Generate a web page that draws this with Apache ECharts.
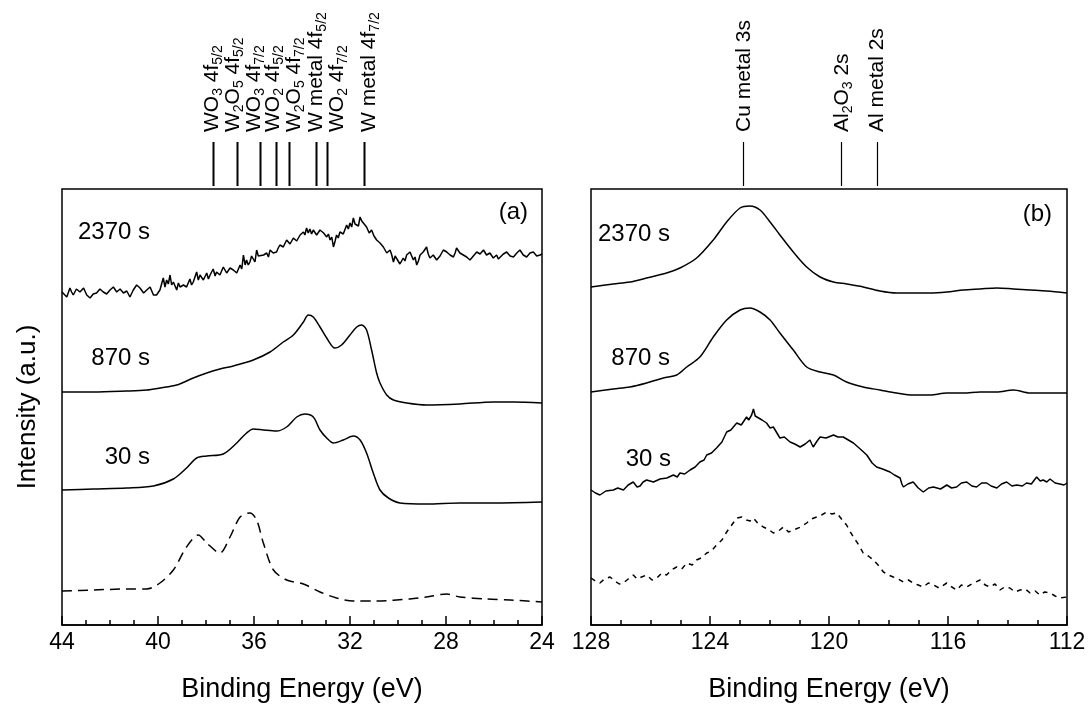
<!DOCTYPE html>
<html>
<head>
<meta charset="utf-8">
<script src="https://cdn.jsdelivr.net/npm/echarts@6/dist/echarts.min.js"></script>
<style>
  html, body { margin: 0; padding: 0; background: #ffffff; }
  #chart { width: 1091px; height: 709px; }
</style>
</head>
<body>
<div id="chart"></div>
<script>
// spectra, [binding energy (eV), intensity (a.u., offset for stacking)]
// panel (a): W 4f region
const a2370 = [[44.0,333],[43.94,332],[43.8,328],[43.67,337],[43.6,333],[43.53,330],[43.4,336],[43.25,333],[43.1,337],[42.97,330],[42.83,327],[42.7,331],[42.56,332],[42.42,336],[42.28,333],[42.14,331],[42.0,335],[41.86,338],[41.72,333],[41.58,336],[41.44,332],[41.3,334],[41.17,328],[41.03,335],[40.89,340],[40.75,337],[40.6,332],[40.47,335],[40.33,338],[40.19,330],[40.06,330],[39.92,335],[39.78,347],[39.71,338],[39.64,345],[39.57,341],[39.5,350],[39.43,340],[39.36,343],[39.22,335],[39.15,342],[39.08,338],[38.94,340],[38.81,338],[38.67,346],[38.6,340],[38.53,343],[38.39,353],[38.32,345],[38.25,350],[38.11,345],[37.97,352],[37.9,346],[37.83,350],[37.7,356],[37.62,349],[37.56,353],[37.42,350],[37.28,358],[37.14,352],[37.0,357],[36.86,355],[36.72,352],[36.58,360],[36.51,356],[36.44,370],[36.37,360],[36.31,365],[36.24,360],[36.17,363],[36.1,369],[36.03,368],[35.96,363],[35.89,375],[35.82,369],[35.75,367],[35.6,370],[35.47,372],[35.4,368],[35.33,375],[35.2,372],[35.06,373],[34.99,377],[34.92,380],[34.78,378],[34.64,385],[34.5,381],[34.36,387],[34.22,384],[34.08,390],[33.94,393],[33.88,390],[33.81,397],[33.74,392],[33.67,396],[33.6,391],[33.53,395],[33.39,390],[33.25,395],[33.1,392],[32.97,388],[32.9,391],[32.83,385],[32.76,388],[32.69,378],[32.62,384],[32.56,390],[32.49,387],[32.42,393],[32.28,391],[32.14,400],[32.07,396],[32.0,402],[31.93,398],[31.86,407],[31.79,401],[31.72,403],[31.65,399],[31.58,408],[31.51,404],[31.44,402],[31.31,398],[31.2,392],[31.1,395],[31.0,389],[30.89,385],[30.75,382],[30.61,378],[30.47,372],[30.33,375],[30.26,370],[30.19,363],[30.12,369],[30.06,367],[29.92,361],[29.78,367],[29.71,364],[29.64,370],[29.5,373],[29.36,365],[29.29,368],[29.22,360],[29.15,364],[29.08,370],[28.95,373],[28.81,378],[28.74,371],[28.67,367],[28.53,370],[28.39,365],[28.25,369],[28.11,375],[27.97,373],[27.83,370],[27.69,368],[27.62,372],[27.56,377],[27.42,372],[27.28,370],[27.14,368],[27.0,365],[26.86,369],[26.72,373],[26.58,371],[26.44,375],[26.31,370],[26.17,372],[26.03,367],[25.89,370],[25.82,366],[25.75,367],[25.61,371],[25.47,373],[25.33,369],[25.19,368],[25.05,372],[24.92,375],[24.78,370],[24.64,368],[24.5,372],[24.36,373],[24.22,369],[24.08,370],[24.0,371]];
const a870 = [[44.0,233],[42.69,233],[41.31,234],[40.47,235],[39.92,237],[39.22,240],[38.53,247],[37.97,252],[37.42,256],[36.86,259],[36.03,265],[35.33,273],[34.78,283],[34.36,290],[33.94,303],[33.74,310],[33.53,308],[33.25,298],[32.97,287],[32.63,277],[32.35,280],[32.0,290],[31.72,298],[31.51,300],[31.31,295],[31.1,275],[30.89,252],[30.75,242],[30.47,230],[30.19,225],[29.64,222],[28.81,220],[27.42,221],[26.03,223],[25.19,223],[24.0,222]];
const a30 = [[44.0,135],[42.69,136],[41.31,137],[40.19,139],[39.36,146],[38.81,157],[38.39,167],[37.97,169],[37.28,171],[36.72,182],[36.31,192],[36.03,196],[35.61,195],[35.06,194],[34.64,198],[34.22,208],[33.88,211],[33.53,208],[33.25,195],[32.97,187],[32.69,182],[32.28,185],[31.86,189],[31.58,185],[31.31,172],[31.03,152],[30.75,135],[30.4,127],[29.92,122],[28.81,121],[27.42,122],[26.03,122],[24.0,123]];
const aRef = [[44.0,34],[42.69,35],[41.31,36],[40.47,36],[39.92,42],[39.36,55],[38.81,78],[38.32,90],[37.97,82],[37.42,72],[37.0,88],[36.58,108],[36.17,112],[35.89,105],[35.61,82],[35.19,55],[34.64,45],[33.94,41],[33.25,33],[32.56,27],[31.86,24],[30.89,24],[29.5,26],[28.81,28],[27.97,31],[27.42,28],[26.31,26],[25.33,25],[24.0,23]];

// panel (b): Cu 3s / Al 2s region
const b2370 = [[128.0,338],[127.25,341],[126.69,343],[126.13,347],[125.46,352],[125.01,357],[124.45,367],[123.89,385],[123.44,403],[122.99,417],[122.66,419],[122.32,415],[121.98,403],[121.65,390],[121.2,373],[120.75,358],[120.3,348],[119.85,343],[119.41,341],[118.85,338],[118.29,334],[117.73,332],[117.17,332],[116.6,332],[116.04,333],[115.48,335],[114.92,336],[114.36,337],[113.8,336],[113.24,335],[112.68,334],[112.0,332]];
const b870 = [[128.0,233],[127.25,236],[126.69,238],[126.13,242],[125.57,247],[125.12,250],[124.78,258],[124.34,268],[123.89,288],[123.44,305],[122.99,315],[122.66,317],[122.32,313],[121.98,305],[121.65,292],[121.2,275],[120.75,258],[120.3,253],[119.85,250],[119.41,243],[118.85,238],[118.29,235],[117.73,232],[117.17,230],[116.6,230],[116.04,232],[115.48,232],[114.92,233],[114.36,233],[113.8,235],[113.24,232],[112.68,232],[112.0,232]];
const b30 = [[128.0,135],[127.85,132],[127.7,130],[127.5,134],[127.25,135],[127.1,137],[126.91,135],[126.75,140],[126.58,143],[126.45,138],[126.35,139],[126.25,143],[126.13,145],[125.9,143],[125.68,146],[125.45,147],[125.23,150],[125.1,148],[125.01,152],[124.85,151],[124.67,155],[124.5,158],[124.34,163],[124.2,165],[124.11,170],[123.95,172],[123.78,177],[123.6,183],[123.44,193],[123.3,195],[123.1,202],[122.95,200],[122.77,208],[122.7,205],[122.66,203],[122.6,210],[122.54,216],[122.48,209],[122.43,207],[122.25,205],[122.1,202],[121.98,197],[121.87,198],[121.75,192],[121.65,187],[121.5,188],[121.31,183],[121.15,181],[120.97,178],[120.8,181],[120.64,185],[120.58,181],[120.53,178],[120.4,184],[120.3,188],[120.1,187],[119.85,190],[119.7,188],[119.52,188],[119.35,185],[119.18,182],[118.95,176],[118.73,170],[118.55,162],[118.4,158],[118.2,156],[117.95,153],[117.8,150],[117.61,147],[117.55,141],[117.5,138],[117.35,141],[117.17,143],[117.0,137],[116.83,133],[116.65,137],[116.49,138],[116.25,136],[116.04,140],[115.88,137],[115.71,138],[115.55,142],[115.37,143],[115.2,139],[115.04,138],[114.87,142],[114.7,142],[114.55,139],[114.36,137],[114.2,141],[114.03,143],[113.85,139],[113.69,140],[113.5,139],[113.36,142],[113.2,141],[113.02,148],[112.9,144],[112.8,145],[112.68,143],[112.57,146],[112.4,142],[112.24,141],[112.1,140],[112.0,142]];
const bRef = [[128.0,47],[127.85,44],[127.7,42],[127.55,46],[127.36,48],[127.2,44],[127.05,41],[126.91,42],[126.75,46],[126.58,50],[126.45,46],[126.3,48],[126.13,50],[125.95,45],[125.79,47],[125.62,52],[125.46,50],[125.3,55],[125.12,58],[124.95,56],[124.78,62],[124.6,60],[124.45,65],[124.3,67],[124.11,72],[123.95,74],[123.78,80],[123.6,85],[123.44,93],[123.27,100],[123.1,107],[122.93,108],[122.77,105],[122.65,104],[122.54,107],[122.4,102],[122.21,98],[122.05,96],[121.87,92],[121.7,94],[121.53,98],[121.36,93],[121.2,95],[120.95,98],[120.75,102],[120.6,106],[120.41,108],[120.25,110],[120.08,113],[119.9,111],[119.74,112],[119.58,106],[119.41,100],[119.3,94],[119.18,88],[119.0,80],[118.85,72],[118.68,69],[118.51,65],[118.35,60],[118.17,53],[118.0,50],[117.84,48],[117.67,46],[117.5,43],[117.33,45],[117.17,42],[117.0,40],[116.83,38],[116.66,42],[116.49,40],[116.3,37],[116.04,42],[115.87,38],[115.71,35],[115.55,40],[115.37,38],[115.15,42],[114.92,45],[114.75,40],[114.59,38],[114.42,41],[114.25,35],[114.1,38],[113.92,37],[113.75,33],[113.58,35],[113.4,36],[113.24,32],[113.07,34],[112.91,30],[112.75,33],[112.57,32],[112.4,29],[112.24,27],[112.0,28]];

// reference peak positions shown above the frames (eV), and where each label sits (eV)
const peaksA = [37.72, 36.72, 35.75, 35.1, 34.54, 33.42, 32.97, 31.4];
const labelAtA = [37.77, 36.92, 36.04, 35.25, 34.38, 33.46, 32.58, 31.25];
const namesA = ['WO{s|3} 4f{s|5/2}', 'W{s|2}O{s|5} 4f{s|5/2}', 'WO{s|3} 4f{s|7/2}', 'WO{s|2} 4f{s|5/2}',
  'W{s|2}O{s|5} 4f{s|7/2}', 'W metal 4f{s|5/2}', 'WO{s|2} 4f{s|7/2}', 'W metal 4f{s|7/2}'];
const peaksB = [122.9, 119.6, 118.4];
const labelAtB = [122.9, 119.6, 118.4];
const namesB = ['Cu metal 3s', 'Al{s|2}O{s|3} 2s', 'Al metal 2s'];

const timeLabels = ['2370 s', '870 s', '30 s'];

const FONT = 'Liberation Sans, Arial, sans-serif';
const Y_MAX = 436;

const chart = echarts.init(document.getElementById('chart'));

function xAxisOf(grid, min, max) {
  return {
    gridIndex: grid, type: 'value', min: min, max: max, interval: 4, inverse: true,
    name: 'Binding Energy (eV)', nameLocation: 'middle', nameGap: 51,
    nameTextStyle: { fontFamily: FONT, fontSize: 27, color: '#000' },
    axisLine: { lineStyle: { color: '#000', width: 1.5 } },
    axisTick: { inside: true, length: 9, lineStyle: { color: '#000', width: 1.5 } },
    minorTick: { show: true, splitNumber: 4, length: 5, lineStyle: { color: '#000', width: 1.5 } },
    axisLabel: { fontFamily: FONT, fontSize: 23, color: '#000', margin: 6, showMinLabel: true, showMaxLabel: true },
    splitLine: { show: false }
  };
}

function yAxisOf(grid, name) {
  return {
    gridIndex: grid, type: 'value', min: 0, max: Y_MAX,
    name: name, nameLocation: 'middle', nameGap: 21,
    nameTextStyle: { fontFamily: FONT, fontSize: 26, color: '#000' },
    axisLine: { show: false }, axisTick: { show: false }, axisLabel: { show: false },
    splitLine: { show: false }
  };
}

function spectrum(grid, data, dashed, smooth) {
  return {
    type: 'line', xAxisIndex: grid, yAxisIndex: grid, data: data,
    showSymbol: false, smooth: smooth ? 0.3 : false, silent: true,
    lineStyle: { color: '#000', width: 1.5, type: dashed || 'solid' }
  };
}

// vertical peak markers with rotated labels, placed from the x scale
function peakSeries(grid, peaks, at, names, lw) {
  return {
    type: 'custom', xAxisIndex: grid, yAxisIndex: grid, silent: true, clip: false,
    data: peaks.map((e, i) => [e, at[i], 0]),
    encode: { x: 0, y: 2 },
    renderItem: function (params, api) {
      const p = api.coord([api.value(0), Y_MAX]);
      const x = Math.round(p[0]) + 0.5, top = p[1];
      const tx = api.coord([api.value(1), Y_MAX])[0] + 1;
      return {
        type: 'group',
        children: [
          { type: 'line', shape: { x1: x, y1: top - 47, x2: x, y2: top - 3 },
            style: { stroke: '#000', lineWidth: lw } },
          { type: 'text', x: tx, y: top - 57, rotation: Math.PI / 2,
            style: {
              text: names[params.dataIndex], fill: '#000', fontFamily: FONT, fontSize: 21,
              lineHeight: 26, align: 'left', verticalAlign: 'middle',
              rich: { s: { fontFamily: FONT, fontSize: 14, lineHeight: 26, verticalAlign: 'bottom', fill: '#000' } }
            } }
        ]
      };
    }
  };
}

function label(text, x, y, align) {
  return { type: 'text', x: x, y: y, silent: true,
    style: { text: text, fill: '#000', fontFamily: FONT, fontSize: 24, align: align || 'right', verticalAlign: 'middle' } };
}

chart.setOption({
  animation: false,
  backgroundColor: '#fff',
  grid: [
    { left: 62, top: 189, width: 480, height: Y_MAX, show: true, borderColor: '#000', borderWidth: 1.5 },
    { left: 591, top: 189, width: 476, height: Y_MAX, show: true, borderColor: '#000', borderWidth: 1.5 }
  ],
  xAxis: [xAxisOf(0, 24, 44), xAxisOf(1, 112, 128)],
  yAxis: [yAxisOf(0, 'Intensity (a.u.)'), yAxisOf(1, '')],
  series: [
    spectrum(0, a2370), spectrum(0, a870, null, true), spectrum(0, a30, null, true), spectrum(0, aRef, [10, 6], true),
    spectrum(1, b2370, null, true), spectrum(1, b870, null, true), spectrum(1, b30), spectrum(1, bRef, [5, 5]),
    peakSeries(0, peaksA, labelAtA, namesA, 2), peakSeries(1, peaksB, labelAtB, namesB, 1.2)
  ],
  graphic: [
    label(timeLabels[0], 150, 232), label(timeLabels[1], 150, 358), label(timeLabels[2], 150, 457),
    label(timeLabels[0], 670, 234), label(timeLabels[1], 670, 358), label(timeLabels[2], 671, 459),
    label('(a)', 528, 212), label('(b)', 1052, 214)
  ]
});
</script>
</body>
</html>
